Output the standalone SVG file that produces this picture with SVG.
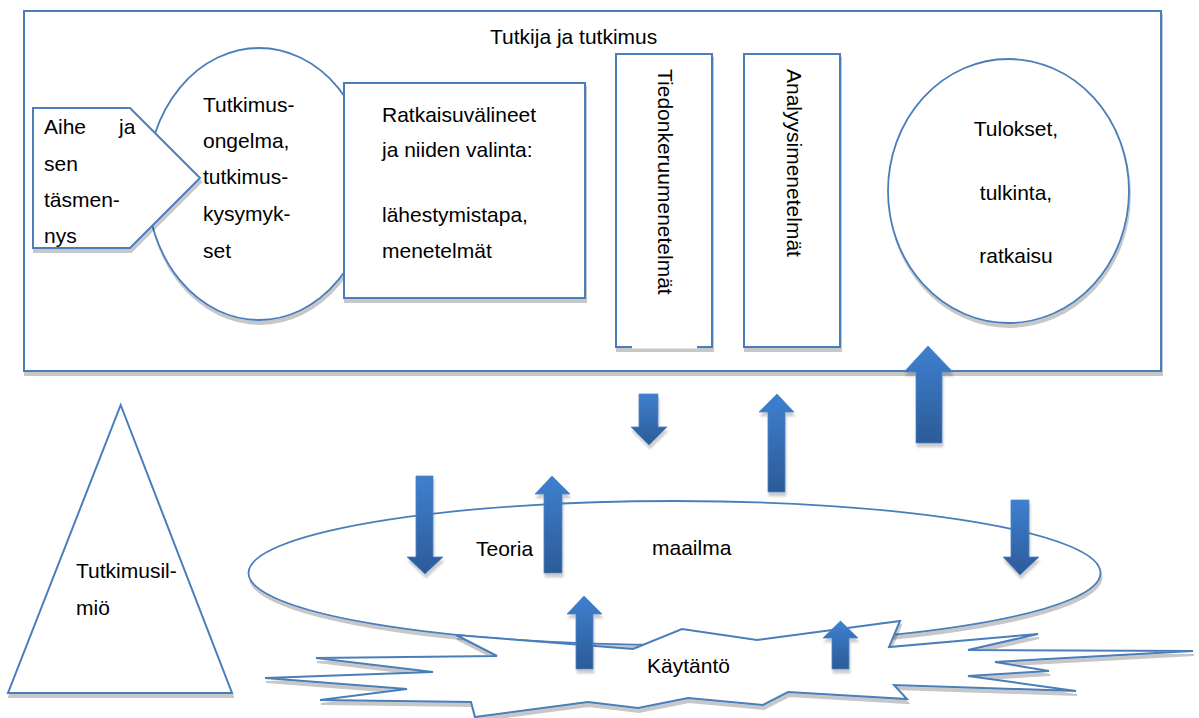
<svg xmlns="http://www.w3.org/2000/svg" width="1199" height="718" viewBox="0 0 1199 718">
<defs>
<style>
.ln{fill:#fff;stroke:#4A7EBB;stroke-width:2}
.el{fill:#fff;stroke:#4A7EBB;stroke-width:1.8}
.t{font-family:"Liberation Sans",Arial,sans-serif;font-size:21px;fill:#000}
.ar{fill:url(#ag);stroke:#4F84C4;stroke-width:0.8}
</style>
<linearGradient id="ag" x1="0" y1="0" x2="0" y2="1">
<stop offset="0" stop-color="#3E80D0"/>
<stop offset="1" stop-color="#2C5B98"/>
</linearGradient>
<filter id="sh" x="-5%" y="-5%" width="112%" height="125%">
<feDropShadow dx="1" dy="4" stdDeviation="0.7" flood-color="#000" flood-opacity="0.22"/>
</filter>
<filter id="sha" x="-20%" y="-10%" width="140%" height="125%">
<feDropShadow dx="1" dy="4" stdDeviation="0.8" flood-color="#000" flood-opacity="0.2"/>
</filter>
</defs>
<rect width="1199" height="718" fill="#fff"/>

<g id="tutkija">
<rect class="ln" x="24" y="11" width="1137" height="360" filter="url(#sh)"/>
<text class="t" x="490" y="44">Tutkija ja tutkimus</text>
</g>

<g id="tutkimusongelma">
<ellipse class="el" cx="259" cy="184" rx="112" ry="136" filter="url(#sh)"/>
<text class="t" x="203" y="112">Tutkimus-</text>
<text class="t" x="203" y="148">ongelma,</text>
<text class="t" x="203" y="184">tutkimus-</text>
<text class="t" x="203" y="221">kysymyk-</text>
<text class="t" x="203" y="258">set</text>
</g>

<g id="aihe">
<polygon class="ln" points="33,108 130,108 200,178 130,248 33,248" filter="url(#sh)"/>
<text class="t" y="134"><tspan x="44">Aihe</tspan><tspan x="119">ja</tspan></text>
<text class="t" x="44" y="171">sen</text>
<text class="t" x="44" y="207">täsmen-</text>
<text class="t" x="44" y="243">nys</text>
</g>

<g id="ratkaisuvalineet">
<rect class="ln" x="344" y="83" width="241" height="215" filter="url(#sh)"/>
<text class="t" x="382" y="122">Ratkaisuvälineet</text>
<text class="t" x="382" y="157">ja niiden valinta:</text>
<text class="t" x="382" y="222">lähestymistapa,</text>
<text class="t" x="382" y="258">menetelmät</text>
</g>

<g id="tiedonkeruu">
<rect class="ln" x="616" y="54" width="96" height="293" filter="url(#sh)"/>
<line x1="632" y1="347" x2="697" y2="347" stroke="#fff" stroke-width="3"/>
<text class="t" transform="translate(658,69) rotate(90)">Tiedonkeruumenetelmät</text>
</g>

<g id="analyysi">
<rect class="ln" x="744" y="54" width="96" height="293" filter="url(#sh)"/>
<text class="t" transform="translate(787,69) rotate(90)">Analyysimenetelmät</text>
</g>

<g id="tulokset">
<ellipse class="el" cx="1008.5" cy="191" rx="120.5" ry="132" filter="url(#sh)"/>
<text class="t" x="1016" y="136" text-anchor="middle">Tulokset,</text>
<text class="t" x="1016" y="200" text-anchor="middle">tulkinta,</text>
<text class="t" x="1016" y="263" text-anchor="middle">ratkaisu</text>
</g>

<g id="tutkimusilmio">
<polygon class="ln" points="120.7,405 232,693 8,693" filter="url(#sh)"/>
<text class="t" x="76" y="578">Tutkimusil-</text>
<text class="t" x="76" y="615">miö</text>
</g>

<g id="teoria-maailma">
<ellipse class="el" cx="674.5" cy="573" rx="426" ry="72" filter="url(#sh)"/>
<text class="t" x="476" y="556">Teoria</text>
<text class="t" x="652" y="555">maailma</text>
</g>

<g id="kaytanto">
<polygon class="ln" points="900,621 889,647 1038,634 968,650 1193,651 995,662 1049,671 968,676 1076,691 894,685 907,699 788,692 763,705 688,698 638,708 588,702 475,717 471,702 320,700 407,689 265,678 433,672 316,658 497,656 456,635 633,649 682,629 757,640" filter="url(#sh)"/>
<text class="t" x="647" y="673">Käytäntö</text>
</g>

<g id="connectors" filter="url(#sha)">
<polygon class="ar" points="639,394 658,394 658,427 667,427 649,445 631,427 639,427"/>
<polygon class="ar" points="777,394 794,412 785,412 785,492 768,492 768,412 759,412"/>
<polygon class="ar" points="928,346 953,372 942,372 942,443 916,443 916,372 904,372"/>
<polygon class="ar" points="416,476 433,476 433,557 443,557 425,574 407,557 416,557"/>
<polygon class="ar" points="552,476 570,494 562,494 562,573 544,573 544,494 535,494"/>
<polygon class="ar" points="1011,500 1029,500 1029,557 1039,557 1020,575 1003,557 1011,557"/>
<polygon class="ar" points="584,596 602,614 593,614 593,669 576,669 576,614 567,614"/>
<polygon class="ar" points="840.5,621 858,638 849,638 849,669 832,669 832,638 823,638"/>
</g>
</svg>
